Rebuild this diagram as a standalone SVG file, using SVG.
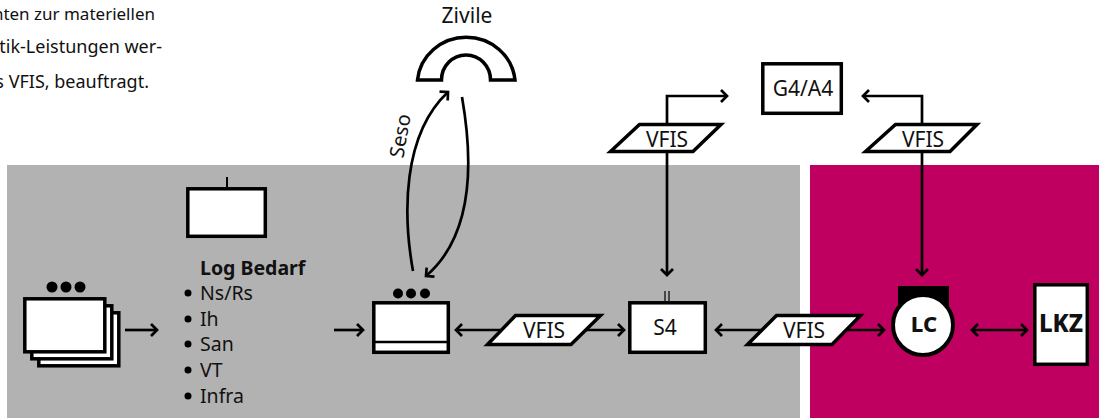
<svg xmlns="http://www.w3.org/2000/svg" width="1099" height="418" viewBox="0 0 1099 418">
<style>
.t{font-family:"Noto Sans","Open Sans",sans-serif;font-size:21px;fill:#111}
.l{font-size:19.500px}
.i{font-size:18px;text-anchor:end}
.m{text-anchor:middle}
.box{fill:#fff;stroke:#000;stroke-width:3.500}
.c{fill:none;stroke:#000;stroke-width:2.700}
.a{marker-end:url(#ah)}
.d{marker-start:url(#ahs);marker-end:url(#ah)}
</style>
<defs>
<marker id="ah" markerUnits="userSpaceOnUse" markerWidth="14" markerHeight="16" refX="11" refY="8" orient="auto"><path d="M5 2L11 8L5 14" fill="none" stroke="#000" stroke-width="2.700"/></marker>
<marker id="ahs" markerUnits="userSpaceOnUse" markerWidth="14" markerHeight="16" refX="3" refY="8" orient="auto"><path d="M9 2L3 8L9 14" fill="none" stroke="#000" stroke-width="2.700"/></marker>
</defs>
<rect x="7" y="165" width="793" height="253" fill="#b2b2b2"/>
<rect x="810" y="165" width="289" height="253" fill="#bf0060"/>
<g id="intro">
<text class="t i" x="155" y="20" style="font-size:17px">nten zur materiellen</text>
<text class="t i" x="162" y="53">tik-Leistungen wer-</text>
<text class="t i" x="149" y="88">s VFIS, beauftragt.</text>
</g>
<g id="connectors">
<path class="c a" d="M125 330H157"/>
<path class="c a" d="M334 330H363"/>
<path class="c d" d="M456 330H624"/>
<path class="c d" d="M716 330H884"/>
<path class="c d" d="M972 330H1027"/>
<path class="c a" d="M413 271C403 215 402 135 448 92"/>
<path class="c a" d="M462 97C473 160 474 235 426 276"/>
<path class="c a" d="M667 123V96H727"/>
<path class="c a" d="M922 123V96H863"/>
<path class="c a" d="M667 153V275"/>
<path class="c a" d="M922 153V275"/>
<path d="M665 291V301M669 291V301" fill="none" stroke="#000" stroke-width="1.200"/>
<path d="M227 177V187" fill="none" stroke="#000" stroke-width="2"/>
</g>
<g id="stack">
<rect class="box" x="38.800" y="312.800" width="80" height="53"/>
<rect class="box" x="31.800" y="305.800" width="80" height="53"/>
<rect class="box" x="24.800" y="298.800" width="80" height="53"/>
<circle cx="52" cy="287" r="5.500"/><circle cx="66" cy="287" r="5.500"/><circle cx="80" cy="287" r="5.500"/>
</g>
<g id="log-box"><rect class="box" x="187.800" y="188.800" width="77.500" height="47.500"/></g>
<g id="log-bedarf">
<text class="t l" x="200" y="275" font-weight="700">Log Bedarf</text>
<text class="t l" x="200" y="300">Ns/Rs</text>
<text class="t l" x="200" y="326">Ih</text>
<text class="t l" x="200" y="351">San</text>
<text class="t l" x="200" y="377">VT</text>
<text class="t l" x="200" y="403">Infra</text>
<circle cx="188" cy="293" r="3.500"/><circle cx="188" cy="319" r="3.500"/><circle cx="188" cy="344" r="3.500"/><circle cx="188" cy="370" r="3.500"/><circle cx="188" cy="396" r="3.500"/>
</g>
<g id="zivile">
<path class="box" d="M417.500 80A49 47.500 0 0 1 515 80H490.500A24.500 25 0 0 0 441.500 80Z"/>
<text class="t m" x="467" y="23">Zivile</text>
</g>
<text class="t m" style="font-size:20px" transform="translate(407 137) rotate(-80)">Seso</text>
<g id="unit">
<rect class="box" x="373.800" y="302.800" width="74.500" height="49.500"/>
<path d="M372 342H450" stroke="#000" stroke-width="2.600"/>
<circle cx="398" cy="293.500" r="5"/><circle cx="411" cy="293.500" r="5"/><circle cx="425" cy="293.500" r="5"/>
</g>
<g id="s4"><rect class="box" x="629.800" y="302.800" width="75.500" height="49.500"/><text class="t m" x="665" y="335">S4</text></g>
<g id="g4a4"><rect class="box" x="762.800" y="63.800" width="78.500" height="49.500"/><text class="t m" x="803" y="96">G4/A4</text></g>
<g id="vfis1"><path class="box" d="M487.500 344.500L515.500 315.500H600.500L571 344.500Z"/><text class="t m" x="544" y="338">VFIS</text></g>
<g id="vfis2"><path class="box" d="M747.500 344.500L776.500 315.500H860.500L832 344.500Z"/><text class="t m" x="804" y="338">VFIS</text></g>
<g id="vfis3"><path class="box" d="M610.500 151.500L639.500 124.500H721L693 151.500Z"/><text class="t m" x="667" y="147">VFIS</text></g>
<g id="vfis4"><path class="box" d="M865.500 151.500L895.500 124.500H977L950 151.500Z"/><text class="t m" x="923" y="147">VFIS</text></g>
<g id="lc">
<rect x="898" y="286" width="51" height="26" fill="#000"/>
<circle cx="923" cy="325" r="30" fill="#fff" stroke="#000" stroke-width="4"/>
<text class="t m" x="924" y="332" font-weight="800" style="font-size:22px">LC</text>
</g>
<g id="lkz">
<rect class="box" x="1034.800" y="284.800" width="52.500" height="79.500"/>
<text class="t m" x="1061" y="332" font-weight="800" style="font-size:24px">LKZ</text>
</g>
</svg>
